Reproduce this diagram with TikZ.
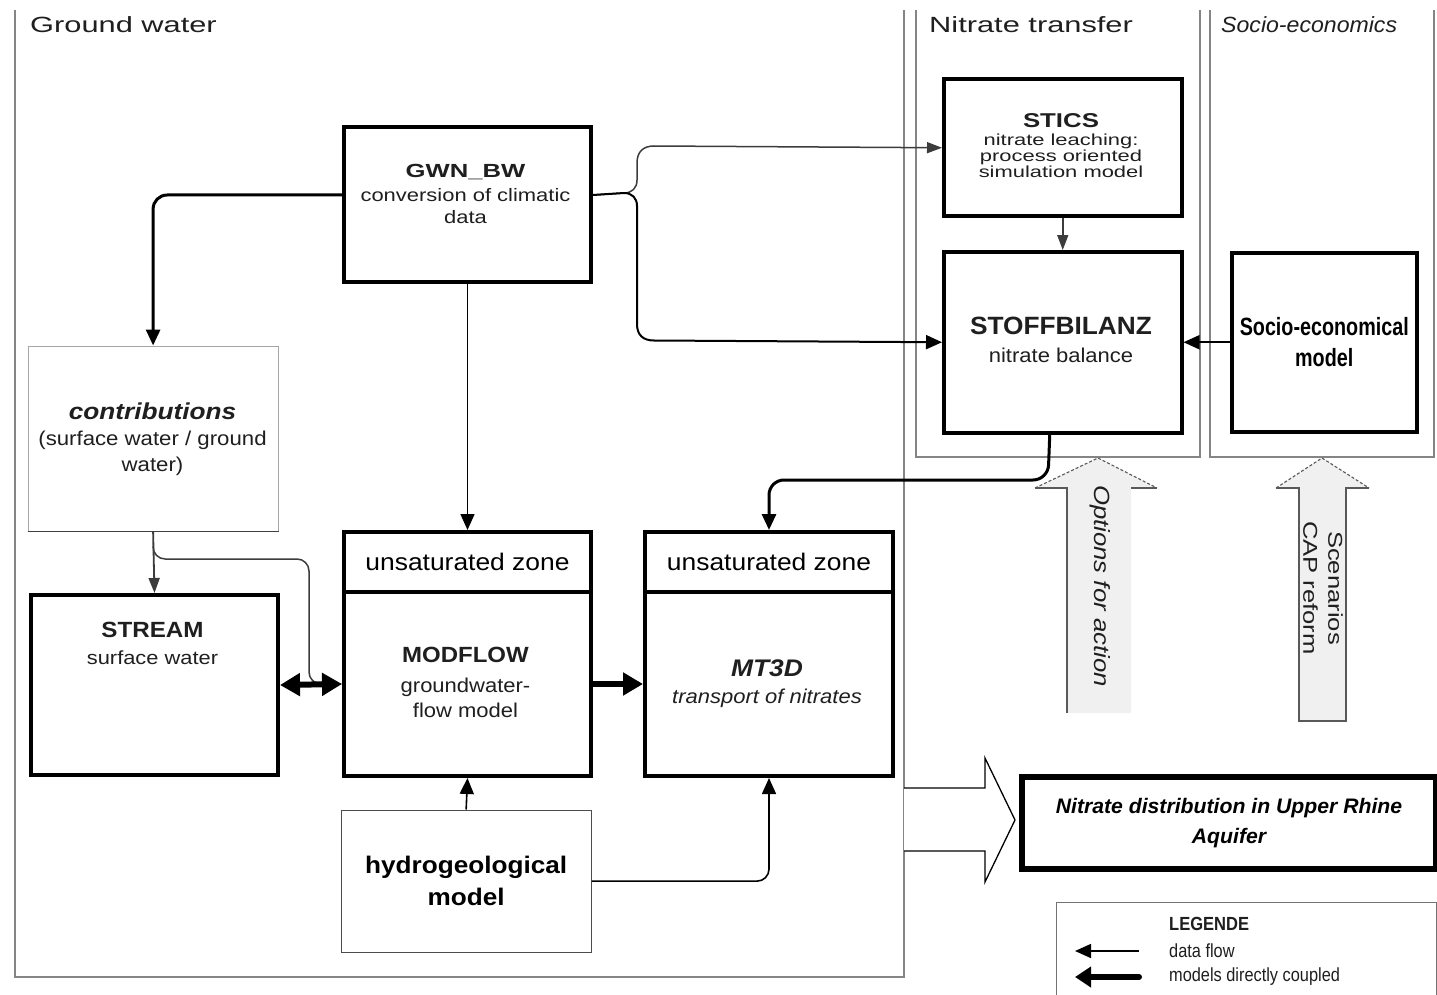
\documentclass[tikz,border=0pt]{standalone}
\usepackage{fontspec}
\setmainfont{Liberation Sans}
\usetikzlibrary{arrows.meta,calc}
\newcommand\fsz[3]{\fontsize{#1}{#2}\selectfont\addfontfeature{FakeStretch=#3}}
\definecolor{frm}{HTML}{858585}
\definecolor{fg}{HTML}{3C3C3C}
\definecolor{afill}{HTML}{F0F0F0}
\begin{document}
\begin{tikzpicture}[x=1pt,y=-1pt,
  dtip/.tip={Triangle[length=16pt,width=14pt]},
  gtip/.tip={Triangle[length=15pt,width=11pt]},
  ctip/.tip={Triangle[length=20pt,width=22pt]},
  mbox/.style={draw=black, line width=4pt, rectangle, inner sep=0pt, anchor=north west},
  tbox/.style={draw=black!45, line width=1.2pt, rectangle, inner sep=0pt, anchor=north west},
  txt/.style={inner sep=0pt, align=center, text=black!88},
  frame/.style={draw=frm, line width=1.6pt},
  flowb/.style={draw=black, line width=1.6pt, -dtip},
  flowg/.style={draw=fg, line width=1.5pt, -gtip},
  flowk/.style={draw=black, line width=3pt, -dtip},
  coupled/.style={draw=black, line width=6pt, -ctip},
  arrfill/.style={fill=afill},
  arredge/.style={draw=black!65, line width=1.3pt},
  arrdash/.style={draw=black!65, line width=1.1pt, dash pattern=on 3pt off 2pt},
]
\useasboundingbox (0,0) rectangle (1437,995);
\fill[white] (0,0) rectangle (1437,995);

% ---------- frames ----------
\draw[frame] (15,10) -- (15,977) -- (904,977) -- (904,10);
\draw[frame] (916,10) -- (916,457) -- (1200,457) -- (1200,10);
\draw[frame] (1210,10) -- (1210,457) -- (1434,457) -- (1434,10);

\node[txt, anchor=west, font=\fsz{22}{26}{1.4}] (tGW) at (30,25) {Ground water};
\node[txt, anchor=west, font=\fsz{22}{26}{1.4}] (tNT) at (929,25) {Nitrate transfer};
\node[txt, anchor=west, font=\itshape\fsz{22}{26}{1.05}] (tSE) at (1221,25) {Socio-economics};

% ---------- boxes ----------
\node[mbox, minimum width=247, minimum height=155] (gwn) at (342,125) {};
\node[mbox, line width=3.5pt, minimum width=238, minimum height=137] (stics) at (942,77.5) {};
\node[mbox, line width=3.5pt, minimum width=238, minimum height=181] (stofb) at (942,250) {};
\node[mbox, line width=3.5pt, minimum width=185, minimum height=179,
      font=\bfseries\fsz{25}{31}{0.79}, align=center] (socio) at (1230,251) {Socio-economical\\model};
\node[tbox, draw=black!35, minimum width=250, minimum height=185] (contrib) at (27.5,345.5) {};
\draw[line width=1.4pt, black!75] (contrib.south west) -- (contrib.south east);
\node[mbox, minimum width=247, minimum height=180] (stream) at (29,593) {};
\node[mbox, minimum width=247, minimum height=60, font=\fsz{24}{28}{1.1}] (unsat1) at (342,530) {unsaturated zone};
\node[mbox, minimum width=247, minimum height=184] (modflow) at (342,590) {};
\node[mbox, minimum width=248, minimum height=60, font=\fsz{24}{28}{1.1}] (unsat2) at (643,530) {unsaturated zone};
\node[mbox, minimum width=248, minimum height=184] (mt3d) at (643,590) {};
\node[tbox, draw=black!70, line width=1.3pt, minimum width=250, minimum height=142,
      font=\bfseries\fsz{24}{32}{1.09}, align=center] (hydro) at (340.5,809.5) {hydrogeological\\model};
\node[mbox, line width=6pt, minimum width=414, minimum height=92,
      font=\bfseries\itshape\fsz{21}{30}{1.01}, align=center] (nitro) at (1019,774) {Nitrate distribution in Upper Rhine\\Aquifer};
\node[tbox, draw=black!55, line width=1.3pt, minimum width=380, minimum height=100] (legend) at (1055.5,901.5) {};

% ---------- texts inside boxes ----------
\node[txt, font=\bfseries\fsz{19}{22}{1.35}] (gwnT) at (465.5,172.5) {GWN\_BW};
\node[txt, font=\fsz{18}{22}{1.22}] (gwnS) at (465.5,206) {conversion of climatic\\data};
\node[txt, font=\bfseries\fsz{20}{24}{1.29}] (stT) at (1061,120.5) {STICS};
\node[txt, font=\fsz{16}{16}{1.37}] (stS) at (1061,156) {nitrate leaching:\\process oriented\\simulation model};
\node[txt, font=\bfseries\fsz{25}{29}{1.05}] (sbT) at (1061,326) {STOFFBILANZ};
\node[txt, font=\fsz{20}{24}{1.1}] (sbS) at (1061,355) {nitrate balance};
\node[txt, font=\bfseries\itshape\fsz{23}{27}{1.14}] (cT) at (152.5,411.5) {contributions};
\node[txt, font=\fsz{20}{26}{1.11}] (cS) at (152.5,453.5) {(surface water / ground\\water)};
\node[txt, font=\bfseries\fsz{22}{26}{1.1}] (smT) at (152.5,629.5) {STREAM};
\node[txt, font=\fsz{19}{23}{1.15}] (smS) at (152.5,658) {surface water};
\node[txt, font=\bfseries\fsz{22}{26}{1.09}] (mfT) at (465.5,655) {MODFLOW};
\node[txt, font=\fsz{20}{25}{1.1}] (mfS) at (465.5,697.5) {groundwater-\\flow model};
\node[txt, font=\bfseries\itshape\fsz{24}{28}{1.1}] (mtT) at (767,668) {MT3D};
\node[txt, font=\itshape\fsz{20}{24}{1.1}] (mtS) at (767,698) {transport of nitrates};

% ---------- connectors ----------
\coordinate (gwnL) at ([yshift=9.5pt]gwn.west);
\coordinate (gwnR) at ([yshift=9.5pt]gwn.east);
\draw[flowk, rounded corners=14pt] (gwnL) -| (contrib.north);
\draw[flowb] (gwn.south) -- (unsat1.north);
\draw[flowg] (gwnR) -- (624,193) .. controls (632,193) and (637,188) .. (637,180)
   -- (637,163) .. controls (637,152) and (643,146) .. (654,146) -- (stics.west);
\draw[flowb, line width=2pt] (gwnR) -- (624,193) .. controls (632,193) and (637,198) .. (637,206)
   -- (637,324) .. controls (637,335) and (643,340.5) .. (654,340.5) -- (stofb.west);
\draw[flowg] (stics.south) -- (stofb.north);
\draw[flowb, line width=2pt] (socio.west) -- (stofb.east);
\coordinate (sbOut) at ([xshift=-13pt]stofb.south);
\draw[flowk, rounded corners=15pt] (sbOut) -- (1048,480) -| (unsat2.north);
\draw[flowg, line width=1.8pt] (contrib.south) -- (stream.north);
\coordinate (brStart) at ($(contrib.south)+(0,14)$);
\draw[flowg, rounded corners=12pt] (brStart) |- (309,559) |- (modflow.west);
\draw[coupled, ctip-ctip] (stream.east) -- (modflow.west);
\draw[coupled] (modflow.east) -- (mt3d.west);
\draw[flowb] (hydro.north) -- (modflow.south);
\draw[flowb, rounded corners=12pt] (hydro.east) -| (mt3d.south);

% ---------- block arrows ----------
\fill[arrfill] (1067,713) -- (1067,488) -- (1035,488) -- (1098,458) -- (1157,488) -- (1131,488) -- (1131,713) -- cycle;
\draw[arredge] (1067,713) -- (1067,488) -- (1035,488);
\draw[arredge] (1131,488) -- (1157,488);
\draw[arrdash] (1035,488) -- (1098,458) -- (1157,488);
\node[txt, rotate=-90, font=\itshape\fsz{22}{26}{1.17}] (opT) at (1100,586) {Options for action};

\fill[arrfill] (1299,721) -- (1299,488) -- (1276,488) -- (1322,458) -- (1369,488) -- (1346,488) -- (1346,721) -- cycle;
\draw[arredge] (1276,488) -- (1299,488) -- (1299,721) -- (1346,721) -- (1346,488) -- (1369,488);
\draw[arrdash] (1276,488) -- (1322,458) -- (1369,488);
\node[txt, rotate=-90, font=\fsz{20}{25}{1.28}] (scT) at (1323,588) {Scenarios\\CAP reform};

\draw[line width=1.3pt, fill=white] (904,788) -- (985,788) -- (985,758) -- (1015,820) -- (985,882) -- (985,851) -- (904,851);

% ---------- legend ----------
\node[txt, anchor=west, font=\bfseries\fsz{19}{22}{0.87}] (lgT) at (1169,924) {LEGENDE};
\node[txt, anchor=west, font=\fsz{19}{22}{0.86}] (lg1) at (1169,951) {data flow};
\node[txt, anchor=west, font=\fsz{19}{22}{0.86}] (lg2) at (1169,977) {models directly coupled};
\coordinate (la1s) at (1139,951);
\coordinate (la1e) at (1075,951);
\coordinate (la2s) at (1139,977);
\coordinate (la2e) at (1075,977);
\draw[flowb] (la1s) -- (la1e);
\draw[coupled, line cap=round, -{Triangle[length=16pt,width=20pt]}] (la2s) -- (la2e);
\end{tikzpicture}
\end{document}
